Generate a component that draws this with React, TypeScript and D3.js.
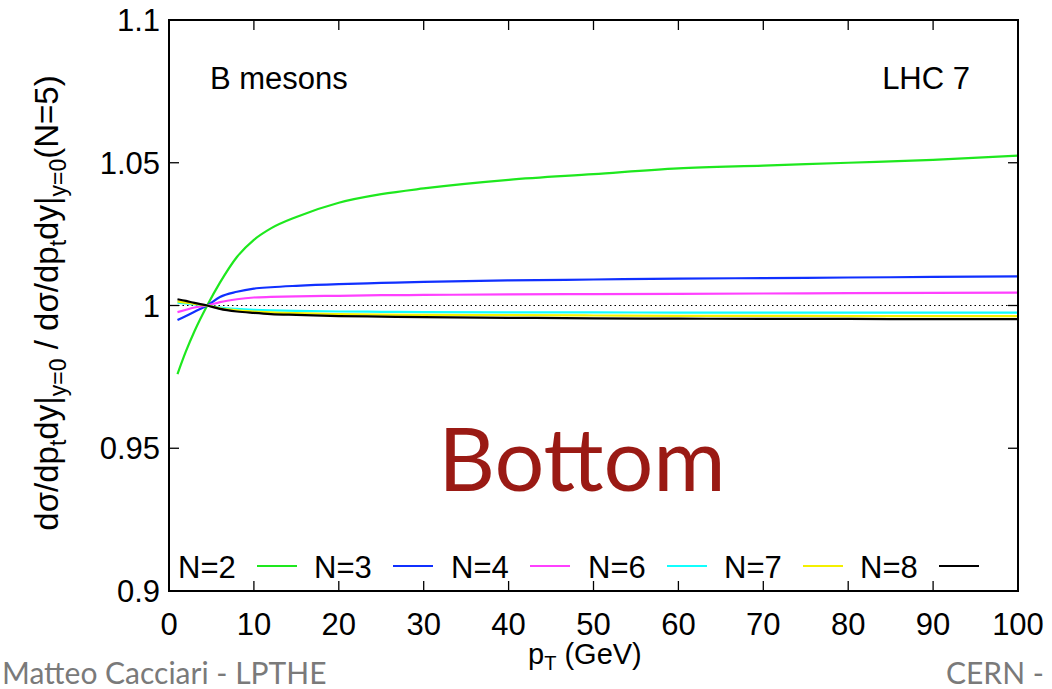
import React from "react";
import * as d3 from "d3";

// Transverse-momentum grid (GeV) shared by all curves
const ptValues = [1, 2, 3, 4.5, 6, 8, 10, 12, 15, 20, 25, 30, 40, 50, 60, 70, 80, 90, 100];

// Ratio of dσ/dpT dy|y=0 for N points to the N=5 result
const ratioN2 = [0.976, 0.984, 0.991, 1.0, 1.008, 1.017, 1.023, 1.027, 1.031, 1.036, 1.039, 1.041, 1.044, 1.046, 1.048, 1.049, 1.050, 1.051, 1.0525];
const ratioN3 = [0.9949, 0.9963, 0.9978, 1.0, 1.003, 1.0048, 1.0059, 1.0064, 1.0069, 1.0075, 1.0079, 1.0083, 1.0088, 1.0091, 1.0094, 1.0096, 1.0098, 1.01, 1.0102];
const ratioN4 = [0.9977, 0.9985, 0.9993, 1.0, 1.0012, 1.0022, 1.0028, 1.003, 1.0032, 1.0034, 1.0036, 1.0037, 1.0039, 1.004, 1.0041, 1.0042, 1.0043, 1.0044, 1.0045];
const ratioN6 = [1.001, 1.0007, 1.0004, 1.0, 0.9993, 0.9988, 0.9985, 0.9983, 0.9981, 0.9979, 0.9978, 0.9977, 0.9976, 0.9976, 0.9975, 0.9975, 0.9975, 0.9975, 0.9975];
const ratioN7 = [1.0014, 1.001, 1.0006, 1.0, 0.999, 0.9983, 0.9979, 0.9976, 0.9973, 0.997, 0.9968, 0.9967, 0.9966, 0.9965, 0.9964, 0.9964, 0.9963, 0.9963, 0.9963];
const ratioN8 = [1.0022, 1.0016, 1.0009, 1.0, 0.9988, 0.9979, 0.9974, 0.997, 0.9967, 0.9963, 0.9961, 0.9959, 0.9957, 0.9955, 0.9954, 0.9953, 0.9953, 0.9952, 0.9952];

const seriesLabels = ["N=2", "N=3", "N=4", "N=6", "N=7", "N=8"];
const seriesValues = [ratioN2, ratioN3, ratioN4, ratioN6, ratioN7, ratioN8];
const seriesColors = ["#1ee81e", "#1030ff", "#ff40ff", "#10ffff", "#f4f000", "#000000"];

const xTicks = [0, 10, 20, 30, 40, 50, 60, 70, 80, 90, 100];
const yTicks = [0.9, 0.95, 1, 1.05, 1.1];

const W = 1052;
const H = 689;
const left = 169;
const right = 1018;
const top = 20;
const bottom = 591;
const FONT = "'Liberation Sans', Arial, Helvetica, sans-serif";
const SLIDE_FONT = "Lato, 'Open Sans', sans-serif";

export default function App() {
  const x = d3.scaleLinear().domain([0, 100]).range([left, right]);
  const y = d3.scaleLinear().domain([0.9, 1.1]).range([bottom, top]);
  const line = d3
    .line<[number, number]>()
    .x((d) => x(d[0]))
    .y((d) => y(d[1]))
    .curve(d3.curveMonotoneX);

  const tickLen = 10;
  const fs = 31;

  // legend slots: label then sample line
  const legendLabelX = [178, 314, 451, 588, 724, 860];
  const legendY = 566;

  return (
    <svg
      width={W}
      height={H}
      viewBox={`0 0 ${W} ${H}`}
      style={{ position: "absolute", left: 0, top: 0, background: "#fff" }}
    >
      <rect x={0} y={0} width={W} height={H} fill="#fff" />

      {/* reference line at ratio = 1 */}
      <line
        x1={x(0)}
        x2={x(100)}
        y1={y(1)}
        y2={y(1)}
        stroke="#000"
        strokeWidth={1}
        strokeDasharray="1.5,3"
      />

      {/* curves */}
      {seriesValues.map((vals, i) => (
        <path
          key={seriesLabels[i]}
          d={line(ptValues.map((p, j) => [p, vals[j]] as [number, number])) || ""}
          fill="none"
          stroke={seriesColors[i]}
          strokeWidth={2.2}
        />
      ))}

      {/* ticks on all four sides, pointing inward */}
      {xTicks.map((t) => (
        <g key={"xt" + t}>
          <line x1={x(t)} x2={x(t)} y1={bottom} y2={bottom - tickLen} stroke="#000" strokeWidth={1.3} />
          <line x1={x(t)} x2={x(t)} y1={top} y2={top + tickLen} stroke="#000" strokeWidth={1.3} />
          <text x={x(t)} y={635} textAnchor="middle" fontFamily={FONT} fontSize={fs} fill="#000">
            {t}
          </text>
        </g>
      ))}
      {yTicks.map((t) => (
        <g key={"yt" + t}>
          <line x1={left} x2={left + tickLen} y1={y(t)} y2={y(t)} stroke="#000" strokeWidth={1.3} />
          <line x1={right} x2={right - tickLen} y1={y(t)} y2={y(t)} stroke="#000" strokeWidth={1.3} />
          <text x={160} y={y(t) + 11} textAnchor="end" fontFamily={FONT} fontSize={fs} fill="#000">
            {String(t)}
          </text>
        </g>
      ))}

      {/* frame */}
      <rect x={left} y={top} width={right - left} height={bottom - top} fill="none" stroke="#000" strokeWidth={2} />

      {/* annotations */}
      <text x={210} y={89} fontFamily={FONT} fontSize={fs} fill="#000">
        B mesons
      </text>
      <text x={970} y={89} textAnchor="end" fontFamily={FONT} fontSize={fs} fill="#000">
        LHC 7
      </text>

      {/* legend */}
      {seriesLabels.map((lab, i) => (
        <g key={"lg" + lab}>
          <text x={legendLabelX[i]} y={legendY + 12} fontFamily={FONT} fontSize={fs} fill="#000">
            {lab}
          </text>
          <line
            x1={legendLabelX[i] + 79}
            x2={legendLabelX[i] + 119}
            y1={legendY}
            y2={legendY}
            stroke={seriesColors[i]}
            strokeWidth={2.2}
          />
        </g>
      ))}

      {/* x axis title */}
      <text x={528} y={664} fontFamily={FONT} fontSize={29} fill="#000">
        p<tspan fontSize={20} dy={6}>T</tspan>
        <tspan dy={-6}> (GeV)</tspan>
      </text>

      {/* y axis title */}
      <text
        transform={`translate(58, ${303}) rotate(-90)`}
        textAnchor="middle"
        fontFamily={FONT}
        fontSize={33}
        fill="#000"
      >
        dσ/dp<tspan fontSize={23} dy={8}>t</tspan>
        <tspan dy={-8}>dy|</tspan>
        <tspan fontSize={23} dy={8}>y=0</tspan>
        <tspan dy={-8}> / dσ/dp</tspan>
        <tspan fontSize={23} dy={8}>t</tspan>
        <tspan dy={-8}>dy|</tspan>
        <tspan fontSize={23} dy={8}>y=0</tspan>
        <tspan dy={-8}>(N=5)</tspan>
      </text>

      {/* slide overlay */}
      <text x={582} y={491} textAnchor="middle" fontFamily={SLIDE_FONT} fontSize={88} fill="#9a1a14">
        Bottom
      </text>
      <text x={2} y={684} fontFamily={SLIDE_FONT} fontSize={30} fill="#7a7a7a">
        Matteo Cacciari - LPTHE
      </text>
      <text x={946} y={684} fontFamily={SLIDE_FONT} fontSize={30} fill="#7a7a7a">
        CERN -
      </text>
    </svg>
  );
}
